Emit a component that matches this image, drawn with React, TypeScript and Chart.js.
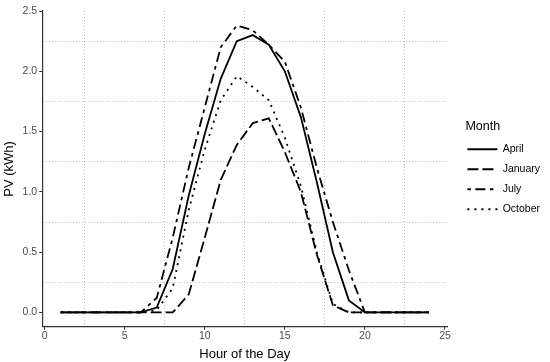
import React, { useEffect, useRef } from 'react';
import { Chart, registerables } from 'chart.js';

Chart.register(...registerables);

const hours = [1, 2, 3, 4, 5, 6, 7, 8, 9, 10, 11, 12, 13, 14, 15, 16, 17, 18, 19, 20, 21, 22, 23, 24];
const april = [0, 0, 0, 0, 0, 0, 0.04, 0.36, 0.97, 1.48, 1.94, 2.25, 2.3, 2.22, 2.0, 1.62, 1.08, 0.5, 0.1, 0, 0, 0, 0, 0];
const january = [0, 0, 0, 0, 0, 0, 0, 0, 0.15, 0.62, 1.1, 1.39, 1.57, 1.61, 1.33, 1.0, 0.48, 0.06, 0, 0, 0, 0, 0, 0];
const july = [0, 0, 0, 0, 0, 0, 0.12, 0.62, 1.2, 1.7, 2.2, 2.38, 2.34, 2.22, 2.08, 1.7, 1.2, 0.75, 0.35, 0, 0, 0, 0, 0];
const october = [0, 0, 0, 0, 0, 0, 0.02, 0.2, 0.85, 1.35, 1.76, 1.96, 1.87, 1.76, 1.45, 1.05, 0.5, 0.07, 0, 0, 0, 0, 0, 0];

const seriesNames = ['April', 'January', 'July', 'October'];
const seriesDashes = [[], [11, 4], [3.5, 4.5, 10, 4.5], [2, 5]];
const xTickValues = [0, 2.5, 5, 7.5, 10, 12.5, 15, 17.5, 20, 22.5, 25];
const yTickValues = [0, 0.25, 0.5, 0.75, 1, 1.25, 1.5, 1.75, 2, 2.25, 2.5];

const FONT = "'Liberation Sans', Arial, Helvetica, sans-serif";
const GRID = '#bdbdbd';
const LW = 1.8;

export default function App() {
  const ref = useRef<HTMLCanvasElement>(null);

  useEffect(() => {
    const canvas = ref.current;
    if (!canvas) return;
    const mk = (label: string, values: number[], dash: number[]) => ({
      label,
      data: hours.map((h, i) => ({ x: h, y: values[i] })),
      borderColor: '#000',
      backgroundColor: '#000',
      borderWidth: LW,
      borderDash: dash,
      borderCapStyle: 'butt' as const,
      pointRadius: 0,
      pointHoverRadius: 0,
      tension: 0,
      fill: false,
    });
    const allSeries = [april, january, july, october];
    const chart = new Chart(canvas, {
      type: 'line',
      data: {
        datasets: allSeries.map((s, i) => mk(seriesNames[i], s, seriesDashes[i])),
      },
      options: {
        animation: false,
        responsive: false,
        maintainAspectRatio: false,
        layout: { padding: { left: 2, right: 0, top: 11, bottom: 0 } },
        plugins: {
          tooltip: { enabled: false },
          legend: {
            position: 'right',
            align: 'start',
            title: {
              display: true,
              text: 'Month',
              position: 'start',
              color: '#000',
              font: { family: FONT, size: 12.5 },
              padding: { top: 109.5, bottom: 6.5 },
            },
            labels: {
              usePointStyle: true,
              pointStyle: 'line',
              pointStyleWidth: 30,
              boxWidth: 30,
              color: '#000',
              font: { family: FONT, size: 10.5, lineHeight: 18 / 10.5 },
              padding: 2,
              generateLabels: (ch: any) => {
                const items = Chart.defaults.plugins.legend.labels.generateLabels(ch);
                return items.map((it: any, i: number) => ({
                  ...it,
                  text: [seriesNames[i]],
                  lineDash: seriesDashes[i],
                  lineWidth: LW,
                  strokeStyle: '#000',
                  pointStyle: 'line',
                }));
              },
            },
          },
        },
        scales: {
          x: {
            type: 'linear',
            min: -0.15,
            max: 25.15,
            afterBuildTicks: (s: any) => {
              s.ticks = xTickValues.map((v) => ({ value: v }));
            },
            ticks: {
              autoSkip: false,
              maxRotation: 0,
              color: '#4d4d4d',
              font: { family: FONT, size: 10.5 },
              padding: 0,
              callback: (v: any) => (Number(v) % 5 === 0 ? String(v) : ''),
            },
            grid: {
              color: (c: any) => (c.tick && c.tick.value % 5 !== 0 ? GRID : 'rgba(0,0,0,0)'),
              lineWidth: 1,
              tickLength: 3,
              tickColor: (c: any) => (c.tick && c.tick.value % 5 === 0 ? '#333' : 'rgba(0,0,0,0)'),
            },
            border: { display: true, color: '#333', width: 1.2, dash: [1, 2] },
            title: {
              display: true,
              text: 'Hour of the Day',
              color: '#000',
              font: { family: FONT, size: 13 },
              padding: { top: 4, bottom: 0 },
            },
          },
          y: {
            type: 'linear',
            min: -0.119,
            max: 2.5,
            afterBuildTicks: (s: any) => {
              s.ticks = yTickValues.map((v) => ({ value: v }));
            },
            ticks: {
              autoSkip: false,
              color: '#4d4d4d',
              font: { family: FONT, size: 10.5 },
              padding: 2,
              callback: (v: any) => (Number(v) % 0.5 === 0 ? Number(v).toFixed(1) : ''),
            },
            grid: {
              color: (c: any) => (c.tick && c.tick.value % 0.5 !== 0 ? GRID : 'rgba(0,0,0,0)'),
              lineWidth: 1,
              tickLength: 3,
              tickColor: (c: any) => (c.tick && c.tick.value % 0.5 === 0 ? '#333' : 'rgba(0,0,0,0)'),
            },
            border: { display: true, color: '#333', width: 1.2, dash: [1, 2] },
            title: {
              display: true,
              text: 'PV (kWh)',
              color: '#000',
              font: { family: FONT, size: 13 },
              padding: { top: 0, bottom: 3 },
            },
          },
          gap: {
            type: 'linear',
            position: 'right',
            display: true,
            grid: { display: false, drawTicks: false },
            ticks: { display: false },
            border: { display: false },
            afterFit: (s: any) => {
              s.width = 18;
            },
          },
        },
      },
    });
    return () => chart.destroy();
  }, []);

  return (
    <div style={{ position: 'absolute', left: 0, top: 0, width: 550, height: 362, background: '#fff' }}>
      <canvas ref={ref} width={550} height={362} style={{ width: 550, height: 362, display: 'block' }} />
    </div>
  );
}
